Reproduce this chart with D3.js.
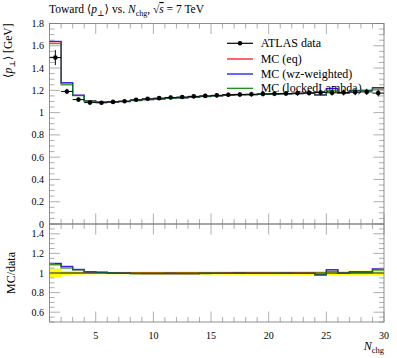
<!DOCTYPE html>
<html>
<head>
<meta charset="utf-8">
<script src="https://cdn.jsdelivr.net/npm/d3@7"></script>
<style>
  body { margin: 0; background: #fff; }
  text { font-family: "Liberation Serif", "DejaVu Serif", serif; fill: #000; }
</style>
</head>
<body>
<svg id="chart" width="397" height="358"></svg>
<script>
// bins in N_chg: [1,2], [2,3], ... [29,30]
const binEdges = d3.range(1, 31);
const dataVals = [1.494, 1.19, 1.117, 1.09, 1.088, 1.096, 1.102, 1.115, 1.124, 1.13,
  1.136, 1.14, 1.146, 1.15, 1.155, 1.16, 1.162, 1.165, 1.168, 1.17,
  1.172, 1.175, 1.177, 1.18, 1.178, 1.18, 1.183, 1.186, 1.175];
const dataErr = [0.067, 0.024, 0.018, 0.016, 0.015, 0.015, 0.015, 0.016, 0.016, 0.017,
  0.017, 0.018, 0.018, 0.019, 0.02, 0.02, 0.022, 0.022, 0.022, 0.022,
  0.023, 0.023, 0.024, 0.025, 0.025, 0.026, 0.027, 0.028, 0.03];
const mcEq = [1.635, 1.265, 1.155, 1.105, 1.095, 1.097, 1.1, 1.11, 1.118, 1.124,
  1.13, 1.134, 1.14, 1.145, 1.15, 1.158, 1.163, 1.162, 1.165, 1.166,
  1.168, 1.172, 1.176, 1.159, 1.218, 1.176, 1.2, 1.2, 1.222];
const mcWz = [1.64, 1.27, 1.157, 1.104, 1.094, 1.096, 1.099, 1.109, 1.117, 1.123,
  1.13, 1.133, 1.139, 1.145, 1.151, 1.156, 1.16, 1.161, 1.164, 1.166,
  1.169, 1.171, 1.173, 1.159, 1.215, 1.177, 1.197, 1.2, 1.224];
const mcLocked = [1.62, 1.25, 1.153, 1.105, 1.097, 1.096, 1.1, 1.108, 1.116, 1.122,
  1.128, 1.133, 1.138, 1.144, 1.15, 1.156, 1.16, 1.161, 1.163, 1.166,
  1.168, 1.171, 1.173, 1.157, 1.198, 1.175, 1.195, 1.198, 1.21];
const series = [
  { name: "MC (eq)", vals: mcEq, color: "#ff0000" },
  { name: "MC (wz-weighted)", vals: mcWz, color: "#0000ff" },
  { name: "MC (lockedLambda)", vals: mcLocked, color: "#008800" },
];
const mainTicks = [0, 0.2, 0.4, 0.6, 0.8, 1, 1.2, 1.4, 1.6, 1.8];
const ratioTicks = [0.6, 0.8, 1, 1.2, 1.4];
const xTicks = [5, 10, 15, 20, 25, 30];

const svg = d3.select("#chart");
const L = 49.6, R = 384;
const x = d3.scaleLinear().domain([1, 30]).range([L, R]);
const y = d3.scaleLinear().domain([0, 1.8]).range([224, 23.5]);
const yr = d3.scaleLinear().domain([0.5, 1.5]).range([322, 224]);
const fmt = v => String(+v.toFixed(2));
const TICK = "#999", FRAME = "#777";

const bins = dataVals.map((v, i) => ({ x0: binEdges[i], x1: binEdges[i + 1], v, e: dataErr[i] }));
const stepPts = vals => vals.flatMap((v, i) => [[binEdges[i], v], [binEdges[i + 1], v]]);

function frameAndTicks(ys, yMin, yMax, yMajor, showXLabels) {
  const g = svg.append("g");
  const top = ys(yMax), bot = ys(yMin);
  // x ticks, top and bottom
  d3.range(1, 31).forEach(t => {
    const len = t % 5 === 0 ? 10.5 : 5;
    g.append("line").attr("x1", x(t)).attr("x2", x(t)).attr("y1", bot).attr("y2", bot - len)
      .attr("stroke", TICK).attr("stroke-width", 0.8);
    g.append("line").attr("x1", x(t)).attr("x2", x(t)).attr("y1", top).attr("y2", top + len)
      .attr("stroke", TICK).attr("stroke-width", 0.8);
  });
  // y ticks, left and right, minor every 0.05
  d3.range(Math.round(yMin / 0.05), Math.round(yMax / 0.05) + 1).forEach(k => {
    const v = k * 0.05;
    const major = yMajor.some(t => Math.abs(t - v) < 1e-6);
    const len = major ? 10.5 : 5;
    g.append("line").attr("x1", L).attr("x2", L + len).attr("y1", ys(v)).attr("y2", ys(v))
      .attr("stroke", TICK).attr("stroke-width", 0.8);
    g.append("line").attr("x1", R).attr("x2", R - len).attr("y1", ys(v)).attr("y2", ys(v))
      .attr("stroke", TICK).attr("stroke-width", 0.8);
  });
  g.append("rect").attr("x", L).attr("y", top).attr("width", R - L).attr("height", bot - top)
    .attr("fill", "none").attr("stroke", FRAME).attr("stroke-width", 0.8);
  g.selectAll(".yl").data(yMajor).join("text")
    .attr("x", 44).attr("y", d => ys(d) + 3.5).attr("text-anchor", "end")
    .style("font-size", "10px").text(fmt);
  if (showXLabels) {
    g.selectAll(".xl").data(xTicks).join("text")
      .attr("x", d => x(d)).attr("y", bot + 17).attr("text-anchor", "middle")
      .style("font-size", "10px").text(d => d);
  }
}

// ---- main panel ----
frameAndTicks(y, 0, 1.8, mainTicks, false);

// legend
const legY = [43.3, 59, 74, 88.3];
const leg = svg.append("g");
leg.append("line").attr("x1", 227).attr("x2", 253).attr("y1", legY[0]).attr("y2", legY[0])
  .attr("stroke", "#000").attr("stroke-width", 1.2);
leg.append("circle").attr("cx", 240).attr("cy", legY[0]).attr("r", 2.3).attr("fill", "#000");
leg.append("text").attr("x", 260.7).attr("y", legY[0] + 4).style("font-size", "12px").text("ATLAS data");
series.forEach((s, i) => {
  leg.append("line").attr("x1", 227).attr("x2", 253).attr("y1", legY[i + 1]).attr("y2", legY[i + 1])
    .attr("stroke", s.color).attr("stroke-width", 1.2);
  leg.append("text").attr("x", 260.7).attr("y", legY[i + 1] + 4).style("font-size", "12px").text(s.name);
});

const lineMain = d3.line().x(d => x(d[0])).y(d => y(d[1]));
series.forEach(s => {
  svg.append("path").attr("d", lineMain(stepPts(s.vals)))
    .attr("fill", "none").attr("stroke", s.color).attr("stroke-width", 1.3).attr("stroke-opacity", 0.75);
});

const dg = svg.append("g");
bins.forEach(b => {
  const cx = x((b.x0 + b.x1) / 2);
  dg.append("line").attr("x1", x(b.x0)).attr("x2", x(b.x1)).attr("y1", y(b.v)).attr("y2", y(b.v))
    .attr("stroke", "#000").attr("stroke-width", 1);
  dg.append("line").attr("x1", cx).attr("x2", cx).attr("y1", y(b.v - b.e)).attr("y2", y(b.v + b.e))
    .attr("stroke", "#000").attr("stroke-width", 1);
  dg.append("circle").attr("cx", cx).attr("cy", y(b.v)).attr("r", 2.3).attr("fill", "#000");
});

// ---- ratio panel ----
const rg = svg.append("g");
bins.forEach(b => {
  rg.append("rect").attr("x", x(b.x0)).attr("width", x(b.x1) - x(b.x0))
    .attr("y", yr(1 + b.e / b.v)).attr("height", yr(1 - b.e / b.v) - yr(1 + b.e / b.v))
    .attr("fill", "#ffff00");
});
rg.append("line").attr("x1", x(1)).attr("x2", x(30)).attr("y1", yr(1)).attr("y2", yr(1))
  .attr("stroke", "#000").attr("stroke-width", 1);
const lineRatio = d3.line().x(d => x(d[0])).y(d => yr(d[1]));
series.forEach(s => {
  const r = s.vals.map((v, i) => v / dataVals[i]);
  rg.append("path").attr("d", lineRatio(stepPts(r)))
    .attr("fill", "none").attr("stroke", s.color).attr("stroke-width", 1.3).attr("stroke-opacity", 0.75);
});
frameAndTicks(yr, 0.5, 1.5, ratioTicks, true);

// ---- labels ----
const title = svg.append("text").attr("x", 49).attr("y", 13).style("font-size", "11.5px");
title.append("tspan").text("Toward ⟨");
title.append("tspan").style("font-style", "italic").text("p");
title.append("tspan").attr("dy", 2.5).style("font-size", "8px").text("⊥");
title.append("tspan").attr("dy", -2.5).text("⟩ vs. ");
title.append("tspan").style("font-style", "italic").text("N");
title.append("tspan").attr("dy", 2.5).style("font-size", "8px").text("chg");
title.append("tspan").attr("dy", -2.5).text(", √");
title.append("tspan").style("font-style", "italic").style("text-decoration", "overline").text("s");
title.append("tspan").text(" = 7 TeV");

const yl = svg.append("text").attr("transform", "translate(12,23.5) rotate(-90)")
  .attr("text-anchor", "end").style("font-size", "11.5px");
yl.append("tspan").text("⟨");
yl.append("tspan").style("font-style", "italic").text("p");
yl.append("tspan").attr("dy", 2.5).style("font-size", "8px").text("⊥");
yl.append("tspan").attr("dy", -2.5).text("⟩ [GeV]");

svg.append("text").attr("transform", `translate(15,${yr(1)}) rotate(-90)`)
  .attr("text-anchor", "middle").style("font-size", "12px").text("MC/data");

const xl = svg.append("text").attr("x", R).attr("y", 350).attr("text-anchor", "end").style("font-size", "12px");
xl.append("tspan").style("font-style", "italic").text("N");
xl.append("tspan").attr("dy", 2.5).style("font-size", "8.5px").text("chg");
</script>
</body>
</html>
